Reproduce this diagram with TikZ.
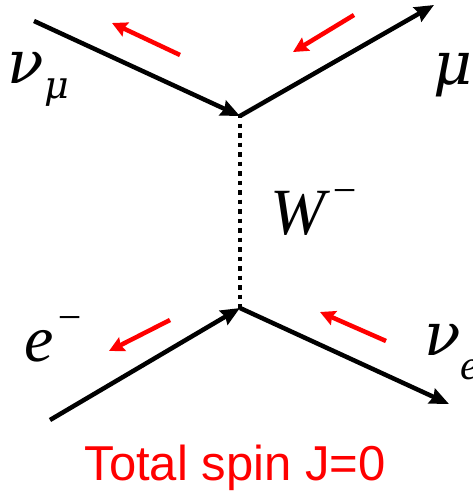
\documentclass[tikz,border=0pt]{standalone}
\usepackage{fontspec}
\setmainfont{Liberation Serif}
\setsansfont{Liberation Sans}
\newfontfamily\greekfont{DejaVu Serif}
\usetikzlibrary{arrows.meta}

\newcommand{\bigletters}{\fontsize{66pt}{66pt}\selectfont\itshape}
\newcommand{\greekletter}[1]{{\greekfont\fontsize{60pt}{60pt}\selectfont\itshape #1}}
\newcommand{\subletter}[2]{\raisebox{-#1}{\fontsize{42pt}{42pt}\selectfont\itshape #2}}
\newcommand{\subgreek}[2]{\raisebox{-#1}{\greekfont\fontsize{38pt}{38pt}\selectfont\itshape #2}}
\newcommand{\supminus}[1]{\kern#1\raisebox{30pt}{\fontsize{42pt}{42pt}\selectfont −}}

\begin{document}
\begin{tikzpicture}[
  x=1pt, y=-1pt,
  every node/.style={inner sep=0pt, outer sep=0pt},
  fermion/.style={line width=4.5pt, -{Triangle[length=19pt,width=16pt,inset=2pt]}},
  boson/.style={line width=4.5pt, dash pattern=on 4.5pt off 5pt},
  spin/.style={red, line width=4.5pt, -{Triangle[length=15pt,width=15pt,inset=2pt]}},
  particle/.style={font=\bigletters, anchor=base west}
]

% ---------- Frame ----------
\useasboundingbox (0,0) rectangle (472,492);

% ---------- Vertices and external ends ----------
\coordinate (vtop) at (240,116);
\coordinate (vbot) at (240,308);
\coordinate (numuin) at (34,21);
\coordinate (muout) at (434,5);
\coordinate (ein) at (50,420);
\coordinate (nueout) at (449,404);

% ---------- Fermion lines ----------
\draw[fermion] (numuin) -- (vtop);
\draw[fermion] (vtop) -- (muout);
\draw[fermion] (ein) -- (vbot);
\draw[fermion] (vbot) -- (nueout);

% ---------- W propagator ----------
\draw[boson] ([yshift=2pt]vtop) -- ([yshift=-2pt]vbot);

% ---------- Spin arrows ----------
\coordinate (s1a) at (180,55);  \coordinate (s1b) at (112,23);
\coordinate (s2a) at (354,15);  \coordinate (s2b) at (293,52);
\coordinate (s3a) at (170,320); \coordinate (s3b) at (109,351);
\coordinate (s4a) at (386,341); \coordinate (s4b) at (320,312);
\draw[spin] (s1a) -- (s1b);
\draw[spin] (s2a) -- (s2b);
\draw[spin] (s3a) -- (s3b);
\draw[spin] (s4a) -- (s4b);

% ---------- Particle labels ----------
\node[particle] (numu) at (8,84) {\greekletter{ν}\subgreek{15pt}{μ}};
\node[particle] (mu) at (433,85) {\greekletter{μ}};
\node[particle] (wminus) at (270,234) {W\supminus{6pt}};
\node[particle] (eminus) at (24,361) {e\supminus{2pt}};
\node[particle] (nue) at (424,355) {\greekletter{ν}\subletter{24pt}{e}};

% ---------- Total spin ----------
\node[anchor=base, text=red, font=\sffamily\fontsize{49pt}{49pt}\selectfont] (jtot) at (235,480) {Total spin J=0};

\end{tikzpicture}
\end{document}
